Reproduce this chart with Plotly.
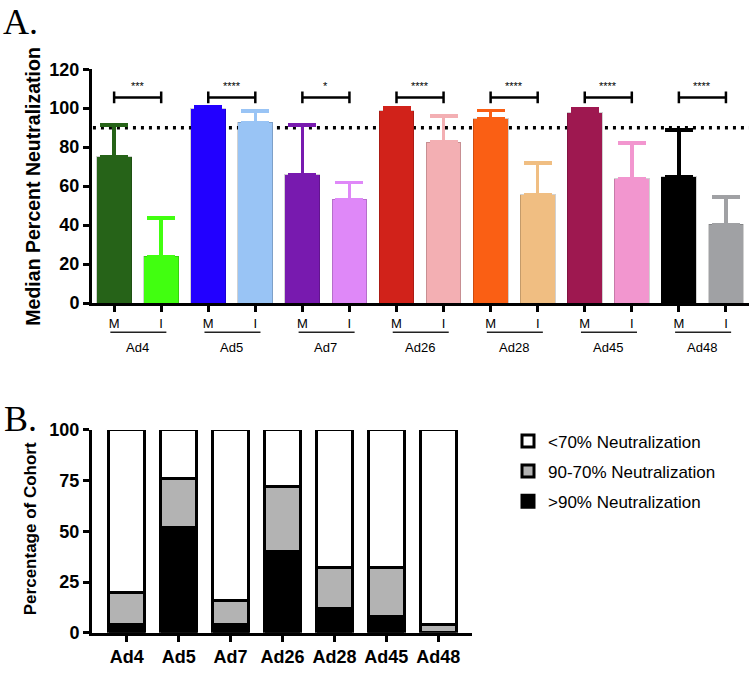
import plotly.graph_objects as go

# ---------------- Data ----------------
groups = ["Ad4", "Ad5", "Ad7", "Ad26", "Ad28", "Ad45", "Ad48"]
pair_labels = ["M", "I"]
m_median = [75, 99.7, 65.8, 98.7, 94.7, 97.7, 64.7]
m_upper = [91.5, 100.5, 91.5, 100.2, 98.7, 99.7, 88.9]
i_median = [24, 92.7, 53.2, 82.6, 55.6, 63.8, 40.4]
i_upper = [43.6, 98.5, 61.8, 95.9, 71.8, 82.2, 54.4]
significance = ["***", "****", "*", "****", "****", "****", "****"]
m_colors = ["#266318", "#2200FF", "#781AAF", "#D1221A", "#FA5F14", "#9E1850", "#000000"]
i_colors = ["#41FF10", "#99C4F5", "#DF88F8", "#F3AFB3", "#F0BE82", "#F296CF", "#A0A1A4"]
threshold = 90
y_ticks_a = [0, 20, 40, 60, 80, 100, 120]

cohort_groups = ["Ad4", "Ad5", "Ad7", "Ad26", "Ad28", "Ad45", "Ad48"]
pct_above90 = [4, 52, 4, 40, 12, 8, 0]
pct_70to90 = [16, 24, 12, 32, 20, 24, 4]
pct_below70 = [80, 24, 84, 28, 68, 68, 96]
stack_names = [">90% Neutralization", "90-70% Neutralization", "<70% Neutralization"]
stack_colors = ["#000000", "#B3B3B3", "#FFFFFF"]
y_ticks_b = [0, 25, 50, 75, 100]

FONT = "Arial, Liberation Sans, Helvetica, sans-serif"
SERIF = "Liberation Serif, Times New Roman, serif"
W, H = 756, 678

fig = go.Figure()

# ---------------- Panel A ----------------
for k, g in enumerate(groups):
    for j, (med, up, col) in enumerate([(m_median[k], m_upper[k], m_colors[k]),
                                         (i_median[k], i_upper[k], i_colors[k])]):
        fig.add_trace(go.Bar(
            x=[2 * k + j], y=[med], width=0.74,
            marker=dict(color=col, line=dict(color="rgba(0,0,0,0.18)", width=1)),
            error_y=dict(type="data", symmetric=False, array=[up - med], arrayminus=[0],
                         color=col, thickness=3.5, width=14),
            showlegend=False, xaxis="x", yaxis="y", hoverinfo="y",
        ))

ticktext_a = pair_labels * len(groups)
shapes = []
annotations = []
shapes.append(dict(type="line", xref="x", yref="y", x0=-0.45, x1=13.49, y0=threshold, y1=threshold,
                   line=dict(color="black", width=3.5, dash="3px,5px"), layer="below"))
for k, g in enumerate(groups):
    x0, x1 = 2 * k, 2 * k + 1
    shapes.append(dict(type="line", xref="x", yref="y", x0=x0, x1=x1, y0=105.5, y1=105.5,
                       line=dict(color="black", width=2.5)))
    for xx in (x0, x1):
        shapes.append(dict(type="line", xref="x", yref="y", x0=xx, x1=xx, y0=102.5, y1=108.5,
                           line=dict(color="black", width=2.5)))
    annotations.append(dict(x=(x0 + x1) / 2, y=111.5, xref="x", yref="y", text=significance[k],
                            showarrow=False, font=dict(family=FONT, size=11, color="black"),
                            yanchor="middle"))
    shapes.append(dict(type="line", xref="x", yref="paper", x0=x0 - 0.08, x1=x1 + 0.11,
                       y0=(H - 332) / H, y1=(H - 332) / H, line=dict(color="#222", width=1.5)))
    annotations.append(dict(x=(x0 + x1) / 2, y=(H - 348) / H, xref="x", yref="paper", text=g,
                            showarrow=False, font=dict(family=FONT, size=13, color="black"),
                            yanchor="middle"))

# ---------------- Panel B ----------------
legend_ranks = [3, 2, 1]
for vals, name, col, rk in zip([pct_above90, pct_70to90, pct_below70], stack_names, stack_colors, legend_ranks):
    fig.add_trace(go.Bar(
        x=cohort_groups, y=vals, name=name, width=0.69,
        marker=dict(color=col, line=dict(color="black", width=3)),
        xaxis="x2", yaxis="y2", legendgroup=name, legendrank=rk,
    ))

annotations += [
    dict(x=1 / W, y=1 + 10 / H, xref="paper", yref="paper", text="A.", showarrow=False,
         xanchor="left", yanchor="top", font=dict(family=SERIF, size=36, color="black")),
    dict(x=2 / W, y=(H - 421) / H, xref="paper", yref="paper", text="B.", showarrow=False,
         xanchor="left", yanchor="middle", font=dict(family=SERIF, size=36, color="black")),
    dict(x=33 / W, y=(H - 182) / H, xref="paper", yref="paper", text="<b>Median Percent Neutralization</b>",
         showarrow=False, textangle=-90, xanchor="center", yanchor="middle",
         font=dict(family=FONT, size=19.5, color="black")),
    dict(x=30 / W, y=(H - 535) / H, xref="paper", yref="paper", text="<b>Percentage of Cohort</b>",
         showarrow=False, textangle=-90, xanchor="center", yanchor="middle",
         font=dict(family=FONT, size=17, color="black")),
]

axis_common = dict(showline=True, linecolor="black", linewidth=3, ticks="outside", ticklen=6,
                   tickwidth=3, tickcolor="black", showgrid=False, zeroline=False)

fig.update_layout(
    width=W, height=H, autosize=False,
    margin=dict(l=0, r=0, t=0, b=0),
    paper_bgcolor="white", plot_bgcolor="white",
    barmode="stack",
    font=dict(family=FONT, color="black"),
    xaxis=dict(domain=[92 / W, 749 / W], anchor="y", range=[-0.47, 13.49],
               tickmode="array", tickvals=list(range(2 * len(groups))), ticktext=ticktext_a,
               tickfont=dict(family=FONT, size=13, color="black"), **axis_common),
    yaxis=dict(domain=[(H - 302) / H, (H - 61) / H], anchor="x", range=[0, 120],
               tickmode="array", tickvals=y_ticks_a, ticktext=[f"<b>{v}</b>" for v in y_ticks_a],
               tickfont=dict(family=FONT, size=18, color="black"), **axis_common),
    xaxis2=dict(domain=[92 / W, 472 / W], anchor="y2", range=[-0.67, 6.65], type="category",
                tickmode="array", tickvals=cohort_groups, ticktext=[f"<b>{g}</b>" for g in cohort_groups],
                tickfont=dict(family=FONT, size=18, color="black"), **axis_common),
    yaxis2=dict(domain=[(H - 641.7) / H, (H - 432.7) / H], anchor="x2", range=[0, 100],
                tickmode="array", tickvals=y_ticks_b, ticktext=[f"<b>{v}</b>" for v in y_ticks_b],
                tickfont=dict(family=FONT, size=18, color="black"), **axis_common),
    legend=dict(x=508 / W, y=(H - 426) / H, xanchor="left", yanchor="top",
                traceorder="grouped", tracegroupgap=5,
                font=dict(family=FONT, size=17, color="black"), bgcolor="rgba(0,0,0,0)"),
    shapes=shapes,
    annotations=annotations,
)

fig.write_html("out.html", config={"displayModeBar": False},
               post_script="document.body.style.margin='0px';")
